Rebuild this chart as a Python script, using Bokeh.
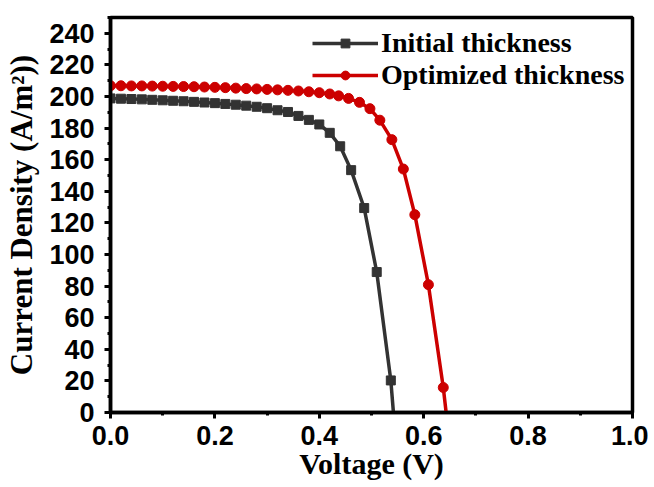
from bokeh.plotting import figure
from bokeh.models import FixedTicker, Legend, LegendItem, Range1d, NumeralTickFormatter
from bokeh.embed import file_html
from bokeh.resources import INLINE

# ---- data ----
series_names = ["Initial thickness", "Optimized thickness"]

voltage_initial = [0.00, 0.02, 0.04, 0.06, 0.08, 0.10, 0.12, 0.14, 0.16, 0.18,
                   0.20, 0.22, 0.24, 0.26, 0.28, 0.30, 0.32, 0.34, 0.36, 0.38,
                   0.40, 0.42, 0.44, 0.461, 0.486, 0.510, 0.537, 0.542]
current_initial = [198.8, 198.6, 198.4, 198.2, 197.9, 197.6, 197.3, 197.0, 196.6, 196.2,
                   195.8, 195.3, 194.8, 194.2, 193.5, 192.6, 191.3, 190.2, 187.7, 185.2,
                   182.3, 177.0, 168.5, 153.4, 129.4, 88.9, 20.3, 0.0]

voltage_optimized = [0.00, 0.02, 0.04, 0.06, 0.08, 0.10, 0.12, 0.14, 0.16, 0.18,
                     0.20, 0.22, 0.24, 0.26, 0.28, 0.30, 0.32, 0.34, 0.36, 0.38,
                     0.40, 0.42, 0.437, 0.456, 0.477, 0.497, 0.516, 0.539, 0.561, 0.583,
                     0.609, 0.6375, 0.643]
current_optimized = [206.8, 206.8, 206.7, 206.7, 206.6, 206.5, 206.4, 206.3, 206.2, 206.0,
                     205.8, 205.6, 205.3, 205.0, 204.8, 204.5, 204.2, 203.9, 203.5, 203.0,
                     202.4, 201.6, 200.4, 198.8, 196.3, 192.3, 185.0, 172.7, 154.1, 125.2,
                     80.9, 15.8, 0.0]

x_major_ticks = [0.0, 0.2, 0.4, 0.6, 0.8, 1.0]
x_minor_ticks = [0.1, 0.3, 0.5, 0.7, 0.9]
y_major_ticks = [0, 20, 40, 60, 80, 100, 120, 140, 160, 180, 200, 220, 240]
y_minor_ticks = [10, 30, 50, 70, 90, 110, 130, 150, 170, 190, 210, 230, 250]

x_label = "Voltage (V)"
y_label = "Current Density (A/m\u00b2))"

# ---- styling ----
BLACK = "#333333"
RED = "#cc0000"

p = figure(width=648, height=487, output_backend="svg", toolbar_location=None,
           x_range=Range1d(0, 1), y_range=Range1d(0, 250),
           min_border_left=110, min_border_right=16, min_border_top=17, min_border_bottom=75)
p.background_fill_color = "white"
p.border_fill_color = "white"
p.grid.visible = False
p.outline_line_color = "black"
p.outline_line_width = 3.5
p.outline_line_alpha = 1.0

l1 = p.line(voltage_initial, current_initial, line_color=BLACK, line_width=3.5)
s1 = p.scatter(voltage_initial[:-1], current_initial[:-1], marker="square", size=9,
               fill_color=BLACK, line_color=BLACK)
l2 = p.line(voltage_optimized, current_optimized, line_color=RED, line_width=3.5)
s2 = p.scatter(voltage_optimized[:-1], current_optimized[:-1], marker="circle", size=10,
               fill_color=RED, line_color=RED)

for ax, ticks, minor in ((p.xaxis[0], x_major_ticks, x_minor_ticks),
                         (p.yaxis[0], y_major_ticks, y_minor_ticks)):
    ax.ticker = FixedTicker(ticks=ticks, minor_ticks=minor)
    ax.axis_line_width = 3.5
    ax.axis_line_color = "black"
    ax.major_tick_in = 0
    ax.major_tick_out = 6
    ax.minor_tick_in = 0
    ax.minor_tick_out = 3
    ax.major_tick_line_width = 3
    ax.minor_tick_line_width = 3
    ax.major_tick_line_color = "black"
    ax.minor_tick_line_color = "black"
    ax.major_label_text_font = "Liberation Sans"
    ax.major_label_text_font_style = "bold"
    ax.major_label_text_font_size = "27px"
    ax.major_label_text_color = "black"
    ax.axis_label_text_font = "Liberation Serif"
    ax.axis_label_text_font_style = "bold"
    ax.axis_label_text_color = "black"

p.xaxis[0].axis_label_text_font_size = "30px"
p.yaxis[0].axis_label_text_font_size = "31px"
p.xaxis[0].major_label_standoff = 7
p.xaxis[0].axis_label_standoff = -1
p.yaxis[0].major_label_standoff = 10
p.yaxis[0].axis_label_standoff = 7

p.xaxis[0].formatter = NumeralTickFormatter(format="0.0")
p.xaxis[0].axis_label = x_label
p.yaxis[0].axis_label = y_label

legend = Legend(items=[LegendItem(label=series_names[0], renderers=[l1, s1]),
                       LegendItem(label=series_names[1], renderers=[l2, s2])],
                location=(202, 321))
legend.padding = 0
legend.margin = 0
legend.spacing = 0
legend.glyph_width = 66
legend.glyph_height = 22
legend.label_height = 31
legend.label_standoff = 3
legend.background_fill_alpha = 0
legend.border_line_alpha = 0
legend.label_text_font = "Liberation Serif"
legend.label_text_font_style = "bold"
legend.label_text_font_size = "28px"
legend.label_text_color = "black"
p.add_layout(legend)

open("out.html", "w").write(file_html(p, INLINE))
